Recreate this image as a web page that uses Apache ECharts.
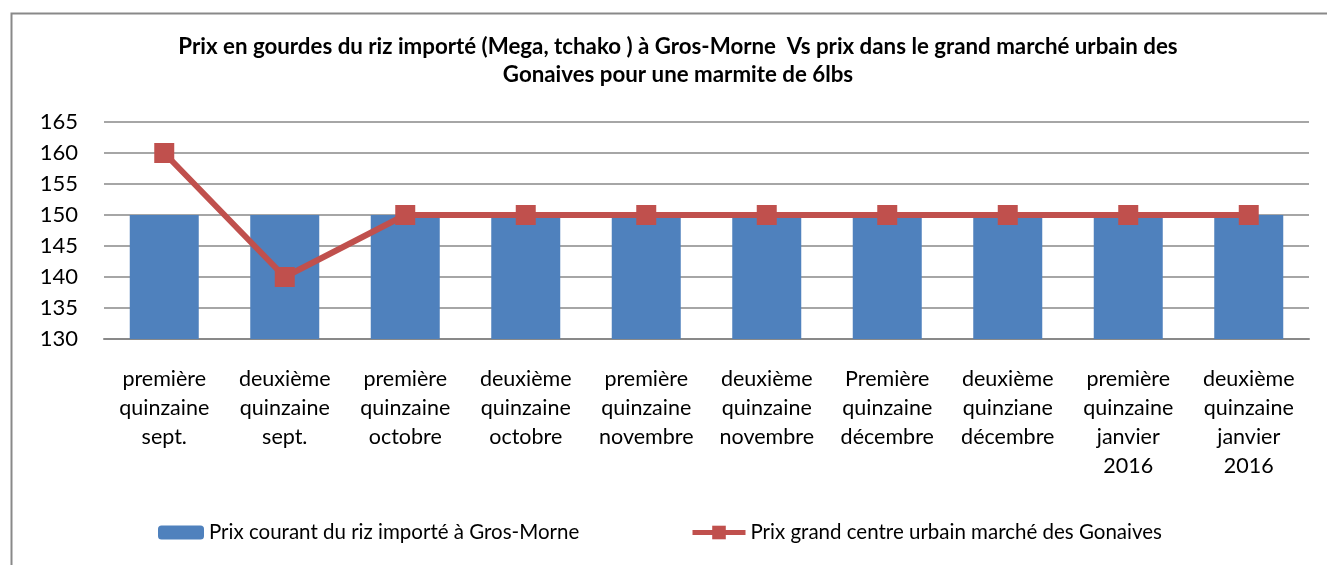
<!DOCTYPE html>
<html>
<head>
<meta charset="utf-8">
<script src="https://cdn.jsdelivr.net/npm/echarts@6/dist/echarts.min.js"></script>
<style>html,body{margin:0;padding:0;background:#fff;}#c{width:1327px;height:565px;}</style>
</head>
<body>
<div id="c"></div>
<script>
const categories = [
  "première\nquinzaine\nsept.",
  "deuxième\nquinzaine\nsept.",
  "première\nquinzaine\noctobre",
  "deuxième\nquinzaine\noctobre",
  "première\nquinzaine\nnovembre",
  "deuxième\nquinzaine\nnovembre",
  "Première\nquinzaine\ndécembre",
  "deuxième\nquinziane\ndécembre",
  "première\nquinzaine\njanvier\n2016",
  "deuxième\nquinzaine\njanvier\n2016"
];
const grosMorne = [150, 150, 150, 150, 150, 150, 150, 150, 150, 150];
const gonaives = [160, 140, 150, 150, 150, 150, 150, 150, 150, 150];
const yTicks = { min: 130, max: 165, interval: 5 };
const seriesNames = ["Prix courant du riz importé à Gros-Morne", "Prix grand centre urbain marché des Gonaives"];
const titleText = "Prix en gourdes du riz importé (Mega, tchako ) à Gros-Morne  Vs prix dans le grand marché urbain des\nGonaives pour une marmite de 6lbs";

const FONT = "Lato";
const chart = echarts.init(document.getElementById('c'), null, { renderer: 'canvas' });
chart.setOption({
  animation: false,
  backgroundColor: '#fff',
  graphic: [{
    type: 'rect', left: 9, top: 11, silent: true,
    shape: { width: 1340, height: 600 },
    style: { fill: 'none', stroke: '#898989', lineWidth: 2 }
  }],
  title: {
    text: titleText,
    left: 673, top: 28, textAlign: 'center',
    textStyle: { fontFamily: FONT, fontSize: 22.3, fontWeight: 'bold', color: '#000', lineHeight: 28 }
  },
  legend: [{
    data: [seriesNames[0]],
    left: 158, top: 522, padding: 0,
    itemWidth: 46, itemHeight: 14,
    textStyle: { fontFamily: FONT, fontSize: 20.5, color: '#000' }
  }, {
    data: [seriesNames[1]],
    left: 690, top: 522, padding: 0,
    itemWidth: 53, itemHeight: 17,
    lineStyle: { width: 5 },
    textStyle: { fontFamily: FONT, fontSize: 20.5, color: '#000' }
  }],
  grid: { left: 104, right: 18, top: 122, bottom: 226 },
  xAxis: {
    type: 'category',
    data: categories,
    axisLine: { lineStyle: { color: '#898989', width: 2 } },
    axisTick: { show: false },
    axisLabel: { interval: 0, margin: 26, fontFamily: FONT, fontSize: 21.5, color: '#000', lineHeight: 29 }
  },
  yAxis: {
    type: 'value',
    min: yTicks.min, max: yTicks.max, interval: yTicks.interval,
    axisLine: { show: false },
    axisTick: { show: false },
    splitLine: { lineStyle: { color: '#898989', width: 1.5 } },
    axisLabel: { margin: 26, fontFamily: FONT, fontSize: 22, color: '#000' }
  },
  series: [{
    name: seriesNames[0],
    type: 'bar',
    data: grosMorne,
    barWidth: 69,
    itemStyle: { color: '#4F81BD' }
  }, {
    name: seriesNames[1],
    type: 'line',
    data: gonaives,
    symbol: 'rect',
    symbolSize: 20,
    lineStyle: { color: '#C0504D', width: 6 },
    itemStyle: { color: '#C0504D' }
  }]
});
</script>
</body>
</html>
